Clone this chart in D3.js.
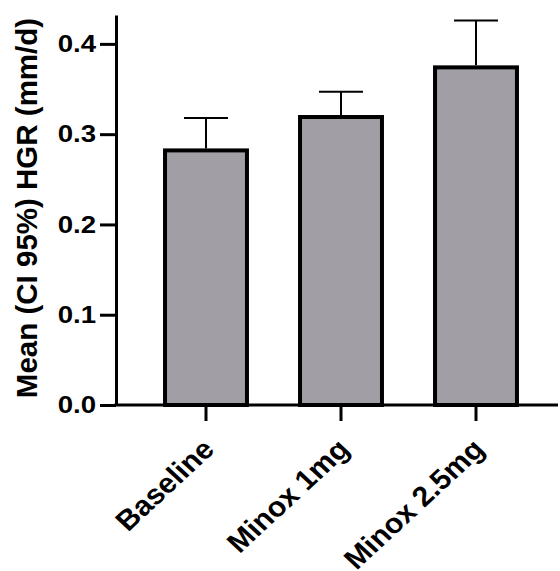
<!DOCTYPE html>
<html>
<head>
<meta charset="utf-8">
<script src="https://cdn.jsdelivr.net/npm/d3@7"></script>
<style>
  body { margin: 0; background: #fff; }
  svg text { font-family: "Liberation Sans", Arial, sans-serif; font-weight: bold; fill: #000; }
</style>
</head>
<body>
<svg id="chart" width="560" height="571"></svg>
<script>
// values
const groups = ["Baseline", "Minox 1mg", "Minox 2.5mg"];
const means = [0.282, 0.319, 0.374];
const upperCI = [0.318, 0.347, 0.426];
const yTicks = [0.0, 0.1, 0.2, 0.3, 0.4];

const svg = d3.select("#chart");
const width = +svg.attr("width");
const axisX = 116, axisY = 405, topY = 15;
const stretch = 1.15; // tick labels are a bit wider than tall
const xStretch = 1.08;

let y = d3.scaleLinear()
    .domain([0, 0.432])
    .range([axisY, topY]);

let x = d3.scaleBand()
    .domain(groups)
    .range([138.5, 543.5])
    .paddingInner(0.393)
    .paddingOuter(0.1965);

// bars
let bars = svg.append("g").attr("id", "bars");
bars.selectAll("rect")
    .data(groups)
    .enter().append("rect")
    .attr("x", d => x(d))
    .attr("y", (d, i) => y(means[i]))
    .attr("width", x.bandwidth())
    .attr("height", (d, i) => y(0) - y(means[i]))
    .style("fill", "#a19fa5")
    .style("stroke", "#000")
    .style("stroke-width", 4);

// error bars (upper half only)
let err = svg.append("g").attr("id", "errors");
groups.forEach(function (g, i) {
    let cx = x(g) + x.bandwidth() / 2;
    err.append("line")
        .attr("x1", cx).attr("x2", cx)
        .attr("y1", y(means[i]) - 2).attr("y2", y(upperCI[i]))
        .style("stroke", "#000").style("stroke-width", 2);
    err.append("line")
        .attr("x1", cx - 22).attr("x2", cx + 22)
        .attr("y1", y(upperCI[i])).attr("y2", y(upperCI[i]))
        .style("stroke", "#000").style("stroke-width", 2);
});

// y axis
let yAxis = d3.axisLeft(y)
    .tickValues(yTicks)
    .tickFormat(d3.format(".1f"))
    .tickSize(16)
    .tickSizeOuter(0)
    .tickPadding(4);
let yg = svg.append("g")
    .attr("transform", "translate(" + axisX + ",0)")
    .call(yAxis);
yg.select(".domain").style("stroke-width", 3);
yg.selectAll(".tick line").style("stroke-width", 3);
yg.selectAll(".tick text")
    .style("font-size", "24px")
    .attr("x", -20 / stretch)
    .attr("transform", "scale(" + stretch + ",1)");

// x axis
let xAxis = d3.axisBottom(x).tickSize(16).tickSizeOuter(0);
let xg = svg.append("g")
    .attr("transform", "translate(0," + axisY + ")")
    .call(xAxis);
xg.select(".domain").remove();
xg.append("line")
    .attr("x1", axisX - 1.5).attr("x2", width - 2)
    .attr("y1", 0).attr("y2", 0)
    .style("stroke", "#000").style("stroke-width", 3);
xg.selectAll(".tick line").style("stroke-width", 3);
xg.selectAll(".tick text")
    .style("font-size", "28px")
    .attr("x", 0).attr("y", 0).attr("dy", 0)
    .style("text-anchor", "end")
    .attr("transform", "translate(10,46) scale(" + xStretch + ",1) rotate(-45)");

// y title
svg.append("text")
    .attr("transform", "translate(37,208) rotate(-90)")
    .style("text-anchor", "middle")
    .style("font-size", "29.5px")
    .text("Mean (CI 95%) HGR (mm/d)");
</script>
</body>
</html>
